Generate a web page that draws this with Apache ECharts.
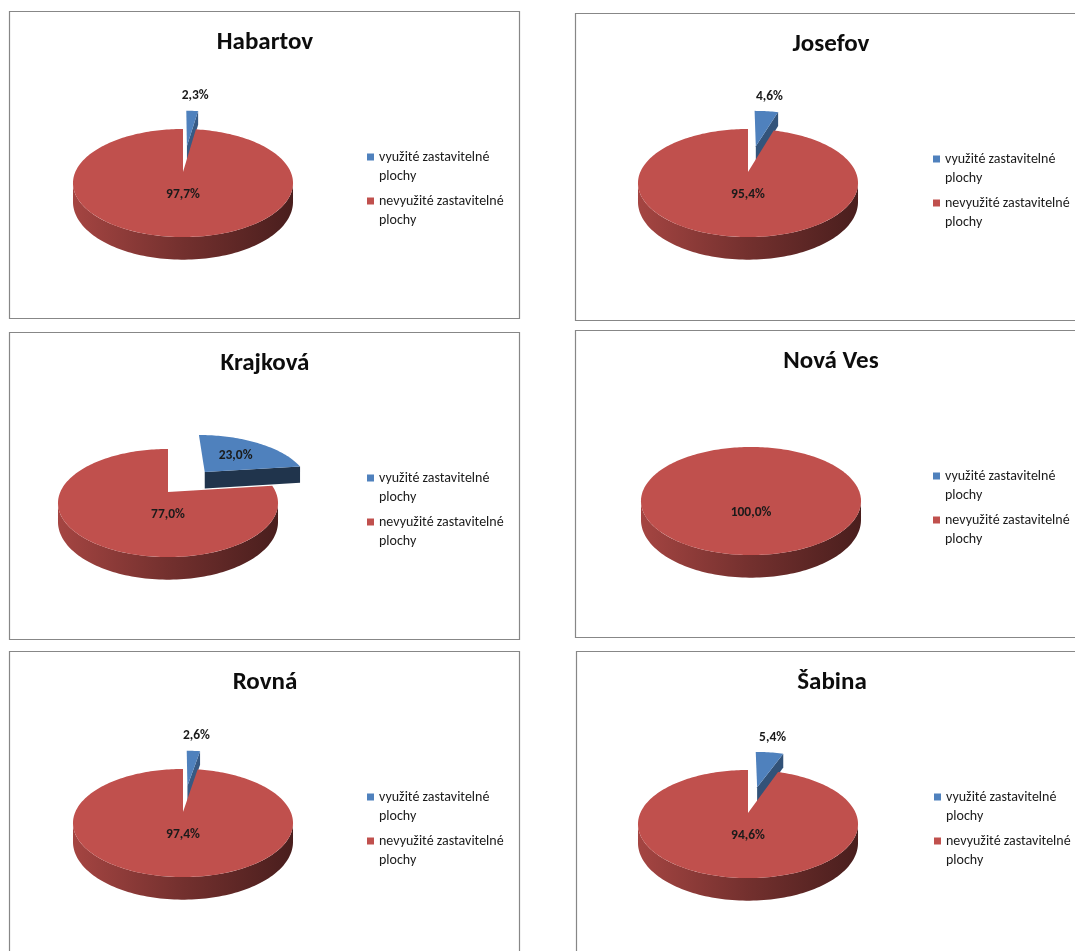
<!DOCTYPE html>
<html>
<head>
<meta charset="utf-8">
<script src="https://cdn.jsdelivr.net/npm/echarts@6/dist/echarts.min.js"></script>
<style>
  html, body { margin: 0; padding: 0; background: #ffffff; }
  #chart { width: 1075px; height: 951px; }
</style>
</head>
<body>
<div id="chart"></div>
<script>
// Zastavitelné plochy – podíl využitých a nevyužitých ploch v jednotlivých částech obce (%)
const places = ['Habartov', 'Josefov', 'Krajková', 'Nová Ves', 'Rovná', 'Šabina'];
const usedShare = [2.3, 4.6, 23.0, 0.0, 2.6, 5.4];
const unusedShare = [97.7, 95.4, 77.0, 100.0, 97.4, 94.6];
const categoryNames = ['využité zastavitelné plochy', 'nevyužité zastavitelné plochy'];
const categoryColors = ['#4f81bd', '#c0504d'];

// ---- layout ----
const FONT = 'Carlito, Calibri, Lato, "Open Sans", sans-serif';
const frames = [[10, 12], [576, 14], [10, 333], [576, 331], [10, 652], [577, 652]];
const FRAME_W = 510, FRAME_H = 307;
const pieCenters = [[183, 172], [748, 172], [168, 492], [751, 490], [183, 812], [748, 813]];

// 3D pie projection (slight perspective, viewed from the front and above)
const RX = 107.7, RY = 51.8, PERSP = 0.204, DEPTH = 18;
const EXPLODE = [0.56, 0];

function project(c, X, D, h) {
  const w = 1 + PERSP * D;
  return [c[0] + RX * X / w, c[1] - RY * D / w + h * DEPTH / w];
}

function shade(hex, f) {
  const n = parseInt(hex.slice(1), 16);
  const r = Math.round(((n >> 16) & 255) * f);
  const g = Math.round(((n >> 8) & 255) * f);
  const b = Math.round((n & 255) * f);
  return 'rgb(' + r + ',' + g + ',' + b + ')';
}

function sideGradient(center, color) {
  return {
    type: 'linear', global: true,
    x: center[0] - RX * 1.03, y: 0, x2: center[0] + RX * 1.03, y2: 0,
    colorStops: [
      { offset: 0, color: shade(color, 0.86) },
      { offset: 0.5, color: shade(color, 0.6) },
      { offset: 1, color: shade(color, 0.38) }
    ]
  };
}

function poly(points, fill) {
  return { type: 'polygon', shape: { points: points }, style: { fill: fill } };
}

function formatPct(v) {
  return v.toFixed(1).replace('.', ',') + '%';
}

function makeRenderer(panel, kind) {
  return function (params, api) {
    const value = api.value(0);
    if (!(value > 0)) return;
    const startPct = kind === 0 ? 0 : usedShare[panel];
    const a0 = startPct * 3.6, a1 = (startPct + value) * 3.6;
    const color = categoryColors[kind];
    const center = pieCenters[panel];
    const full = a1 - a0 >= 359.999;
    const mid = (a0 + a1) / 2 * Math.PI / 180;
    const e = full ? 0 : EXPLODE[kind];
    const ox = e * Math.sin(mid), od = e * Math.cos(mid);
    const P = (X, D, h) => project(center, ox + X, od + D, h);
    const arc = (b0, b1, h) => {
      const pts = [];
      const n = Math.max(2, Math.ceil((b1 - b0) / 1.5));
      for (let j = 0; j <= n; j++) {
        const t = (b0 + (b1 - b0) * j / n) * Math.PI / 180;
        pts.push(P(Math.sin(t), Math.cos(t), h));
      }
      return pts;
    };
    const children = [];

    // cut faces of the wedge, only those turned towards the viewer
    if (!full) {
      [[a0, -1], [a1, 1]].forEach(function (wall) {
        const t = wall[0] * Math.PI / 180;
        const nD = -wall[1] * Math.sin(t);
        if (nD < -1e-3) {
          const s = Math.sin(t), c = Math.cos(t);
          children.push(poly([P(0, 0, 0), P(s, c, 0), P(s, c, 1), P(0, 0, 1)],
            shade(color, 0.75 + 0.35 * nD)));
        }
      });
    }

    // outer rim on the front half
    const v0 = Math.acos(-PERSP) * 180 / Math.PI, v1 = 360 - v0;
    const s0 = Math.max(a0, v0), s1 = Math.min(a1, v1);
    if (s1 > s0) {
      const top = arc(s0, s1, 0), bottom = arc(s0, s1, 1).reverse();
      children.push(poly(top.concat(bottom), sideGradient(center, color)));
    }

    // top face
    const face = full ? arc(0, 360, 0) : [P(0, 0, 0)].concat(arc(a0, a1, 0));
    children.push(poly(face, color));

    // value label
    let lx, ly;
    if (value >= 50) {
      const p = P(0, -0.4, 0); lx = p[0]; ly = p[1];
    } else if (value >= 10) {
      const p = P(0.55 * Math.sin(mid), 0.55 * Math.cos(mid), 0); lx = p[0]; ly = p[1];
    } else {
      const p = P(Math.sin(mid), Math.cos(mid), 0); lx = p[0] + 3; ly = p[1] - 15;
    }
    children.push({
      type: 'text',
      style: {
        text: formatPct(value), x: lx, y: ly, align: 'center', verticalAlign: 'middle',
        fill: '#1a1a1a', fontFamily: FONT, fontWeight: 'bold', fontSize: 13.5
      },
      z2: 10
    });
    return { type: 'group', children: children };
  };
}

const series = [];
places.forEach(function (place, i) {
  [usedShare, unusedShare].forEach(function (arr, kind) {
    series.push({
      type: 'custom',
      name: categoryNames[kind],
      coordinateSystem: 'none',
      silent: true,
      z: 2 + kind,
      itemStyle: { color: categoryColors[kind] },
      data: [[arr[i]]],
      renderItem: makeRenderer(i, kind)
    });
  });
});

const chart = echarts.init(document.getElementById('chart'), null, { renderer: 'canvas' });
chart.setOption({
  animation: false,
  backgroundColor: '#ffffff',
  graphic: frames.map(function (f) {
    return {
      type: 'rect', z: 0, silent: true,
      shape: { x: f[0] - 0.5, y: f[1] - 0.5, width: FRAME_W, height: FRAME_H },
      style: { fill: '#ffffff', stroke: '#878787', lineWidth: 1.2 }
    };
  }),
  title: places.map(function (p, i) {
    return {
      text: p, left: frames[i][0] + 255, top: frames[i][1] + 18, textAlign: 'center', padding: 0,
      textStyle: { fontFamily: FONT, fontWeight: 'bold', fontSize: 25, color: '#0d0d0d' }
    };
  }),
  legend: frames.map(function (f) {
    return {
      orient: 'vertical', left: f[0] + 357, top: f[1] + 116.5, padding: 0,
      itemWidth: 7, itemHeight: 7, itemGap: -13, icon: 'rect', selectedMode: false,
      data: categoryNames,
      // a leading empty line keeps the first line of the two-line name level with the marker
      formatter: function (name) {
        const k = name.lastIndexOf(' ');
        return '\n' + name.slice(0, k) + '\n' + name.slice(k + 1);
      },
      textStyle: { fontFamily: FONT, fontSize: 14, lineHeight: 19, color: '#1a1a1a' }
    };
  }),
  series: series
});
</script>
</body>
</html>
